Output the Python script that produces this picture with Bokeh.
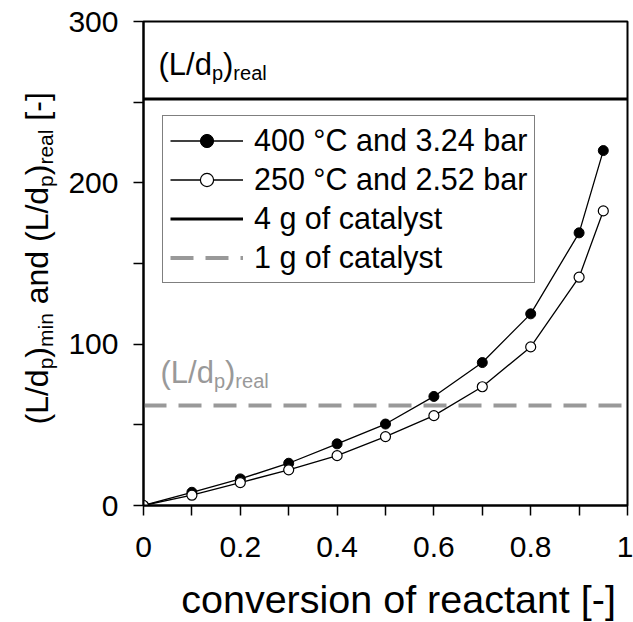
import math
from bokeh.plotting import figure
from bokeh.layouts import row, column
from bokeh.models import Label, FixedTicker, NumeralTickFormatter, Legend, LegendItem, Range1d
from bokeh.embed import file_html
from bokeh.resources import INLINE

# ---- data ----
conversion = [0, 0.1, 0.2, 0.3, 0.4, 0.5, 0.6, 0.7, 0.8, 0.9, 0.95]
ld_400C = [0, 8.2, 16.5, 26.2, 38.2, 50.5, 67.6, 88.6, 118.8, 169.0, 220.0]
ld_250C = [0, 6.4, 14.2, 22.1, 30.9, 42.7, 55.7, 73.6, 98.3, 141.5, 182.6]
real_4g = 252
real_1g = 62
x_span = [0, 1]
x_ticks = [0, 0.2, 0.4, 0.6, 0.8, 1]
x_minor = [0.1, 0.3, 0.5, 0.7, 0.9]
y_ticks = [0, 100, 200, 300]
y_minor = [50, 150, 250]
legend_labels = ["400 °C and 3.24 bar", "250 °C and 2.52 bar", "4 g of catalyst", "1 g of catalyst"]
x_title = "conversion of reactant [-]"

FONT = "Liberation Sans"
GRAY = "#999999"
TOTAL_W, TOTAL_H = 633, 622
LAB_W = 60      # strip for the rotated y title
XLAB_H = 50     # strip for the x title
MAIN_W = TOTAL_W - LAB_W
MAIN_H = TOTAL_H - XLAB_H
BASE = 0.32     # label anchor sits this fraction of the font size above the baseline


def blank(w, h, x_range=None):
    f = figure(width=w, height=h, x_range=x_range if x_range is not None else Range1d(0, w),
               y_range=Range1d(0, h), x_axis_type=None, y_axis_type=None, output_backend="svg",
               toolbar_location=None, min_border=0)
    f.grid.visible = False
    f.outline_line_color = None
    f.background_fill_color = "white"
    f.border_fill_color = "white"
    return f


p = figure(width=MAIN_W, height=MAIN_H, x_range=Range1d(0, 1), y_range=Range1d(0, 300),
           output_backend="svg", toolbar_location=None,
           min_border_left=143 - LAB_W, min_border_right=6, min_border_top=21,
           min_border_bottom=MAIN_H - 505)
p.grid.visible = False
p.outline_line_color = "black"
p.outline_line_width = 2
p.background_fill_color = "white"
p.border_fill_color = "white"

p.xaxis.ticker = FixedTicker(ticks=x_ticks, minor_ticks=x_minor)
p.yaxis.ticker = FixedTicker(ticks=y_ticks, minor_ticks=y_minor)
p.xaxis.formatter = NumeralTickFormatter(format="0.[0]")
for ax in (p.xaxis[0], p.yaxis[0]):
    ax.axis_line_width = 2
    ax.axis_line_color = "black"
    ax.major_tick_line_width = 1.5
    ax.minor_tick_line_width = 1.5
    ax.major_tick_out = 10
    ax.major_tick_in = 0
    ax.minor_tick_out = 10
    ax.minor_tick_in = 0
    ax.major_label_text_font = FONT
    ax.major_label_text_font_size = "30px"
    ax.major_label_text_color = "black"
p.yaxis.major_label_standoff = 15
p.xaxis.major_label_standoff = 21

# reference lines
r4 = p.line(x_span, [real_4g, real_4g], line_color="black", line_width=3)
r1 = p.line(x_span, [real_1g, real_1g], line_color=GRAY, line_width=4, line_dash="23 12")

# series
l400 = p.line(conversion, ld_400C, line_color="black", line_width=1.3)
s400 = p.scatter(conversion, ld_400C, marker="circle", size=10, fill_color="black", line_color="black")
l250 = p.line(conversion, ld_250C, line_color="black", line_width=1.3)
s250 = p.scatter(conversion, ld_250C, marker="circle", size=10, fill_color="white", line_color="black", line_width=1.2)

legend = Legend(items=[LegendItem(label=legend_labels[0], renderers=[l400, s400]),
                       LegendItem(label=legend_labels[1], renderers=[l250, s250]),
                       LegendItem(label=legend_labels[2], renderers=[r4]),
                       LegendItem(label=legend_labels[3], renderers=[r1])],
                location=(19, 222), margin=0, padding=7, spacing=4,
                glyph_width=73, glyph_height=33, label_height=33, label_standoff=11,
                label_text_font=FONT, label_text_font_size="30.5px", label_text_color="black",
                border_line_color="black", border_line_width=1.5,
                background_fill_color="white", background_fill_alpha=1)
p.add_layout(legend)

# ---- text with subscripts, built from pieces ----
W = {"(": .333, "L": .556, "/": .278, "d": .556, "p": .556, ")": .333, "m": .833, "i": .222,
     "n": .556, " ": .278, "a": .556, "r": .333, "e": .556, "l": .222, "[": .278, "-": .333, "]": .278}


def tw(s, size):
    return sum(W.get(c, .556) for c in s) * size


def horiz_label(pieces, x0, y0, dx, dy, color):
    off = dx
    for txt, sub in pieces:
        size = 20 if sub else 31
        base = dy - (5 if sub else 0)
        p.add_layout(Label(x=x0, y=y0, x_offset=off, y_offset=base + BASE * size, text=txt,
                           text_font=FONT, text_font_size=f"{size}px", text_color=color,
                           text_align="left", text_baseline="alphabetic"))
        off += tw(txt, size)


real_pieces = [("(L/d", False), ("p", True), (")", False), ("real", True)]
horiz_label(real_pieces, 0, real_4g, 15, 25, "black")
horiz_label(real_pieces, 0, real_1g, 17, 23, GRAY)

# ---- rotated y-axis title, in a narrow strip left of the plot ----
lab = blank(LAB_W, TOTAL_H)
ylab_pieces = [("(L/d", False), ("p", True), (")", False), ("min", True), (" and (L/d", False),
               ("p", True), (")", False), ("real", True), (" [-]", False)]
off = 0
for txt, sub in ylab_pieces:
    size = 21 if sub else 32
    lead = len(txt) - len(txt.lstrip(" "))
    off += tw(" " * lead, size)
    shown = txt.strip(" ")
    base_x = 47 + (5 if sub else 0)
    lab.add_layout(Label(x=base_x - BASE * size, y=TOTAL_H - 424, y_offset=off, text=shown,
                         angle=math.pi / 2, text_font=FONT, text_font_size=f"{size}px",
                         text_color="black", text_align="left", text_baseline="alphabetic"))
    off += tw(shown, size)

# ---- x-axis title strip (frame aligned with the main plot's frame) ----
xlab = blank(MAIN_W, XLAB_H, x_range=p.x_range)
xlab.add_layout(Label(x=0.527, y=(TOTAL_H - 611) + BASE * 39.5, text=x_title,
                      text_font=FONT, text_font_size="39.5px", text_color="black",
                      text_align="center", text_baseline="alphabetic"))

layout = row(lab, column(p, xlab, spacing=0), spacing=0)
open("out.html", "w").write(file_html(layout, INLINE))
